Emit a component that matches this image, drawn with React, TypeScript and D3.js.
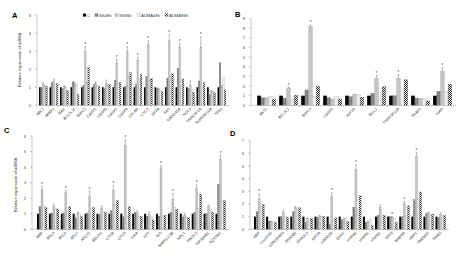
import React from "react";
import * as d3 from "d3";

const seriesNames = ["C", "SS48h", "SS96h", "ADMA48h", "ADMA96h"];

// Panel A
const aCats = ["ABL1","APAF1","BAX","BCL2L11","BIRC2","CASP1","CASP6","CASP7","CASP9","CFLAR","CYCS","DFFA","FAS","GADD45A","NOL3","TNFRSF1A","TNFRSF10A","TP53"];
const aC =      [1,1,1,1,1,1,1,1,1,1,1,1,1,1,1,1,1,1];
const aSS48 =   [1.0,1.25,0.95,1.3,1.1,1.15,0.95,1.4,1.05,1.15,1.6,0.95,1.5,2.05,0.95,1.35,0.6,2.35];
const aSS96 =   [1.15,1.35,1.05,1.1,3.0,1.2,1.2,2.3,3.0,2.5,3.35,0.9,3.6,3.2,1.1,3.2,0.75,1.0];
const aADMA48 = [1.1,1.15,1.0,1.2,1.25,1.1,1.1,1.2,1.6,1.5,1.4,0.85,1.6,1.5,0.8,1.1,0.75,1.55];
const aADMA96 = [1.05,1.2,0.8,0.6,2.1,1.05,1.15,1.25,1.8,1.7,1.5,0.75,1.75,1.45,0.7,1.25,0.7,0.85];
const aErr96 =  [0.1,0.1,0.05,0.15,0.25,0.1,0.2,0.25,0.25,0.15,0.25,0.05,0.3,0.2,0.25,0.6,0.05,0.1];
const aStars =  [4,7,8,9,10,12,13,15];

// Panel B
const bCats = ["AKT1","BCL2L1","BIRC3","CASP2","IGF1R","MCL1","TNFRSF11B","TRAF2","XIAP"];
const bC =      [1,1,1,1,1,1,1,1,1];
const bSS48 =   [0.8,0.75,1.6,0.8,0.9,1.25,1.0,0.75,1.45];
const bSS96 =   [0.75,1.8,8.2,0.6,1.1,2.8,2.8,0.65,3.55];
const bADMA48 = [0.95,0.65,0.9,0.95,1.15,1.2,1.7,0.75,1.45];
const bADMA96 = [0.6,1.05,2.0,0.65,0.85,1.95,2.65,0.45,2.2];
const bErr96 =  [0.05,0.1,0.15,0.05,0.05,0.3,0.4,0.05,0.35];
const bStars =  [1,2,5,6,8];

// Panel C
const cCats = ["ABR","ATG3","ATG5","ATG7","ATG12","BECN1","CTSB","CTSS","GAA","HTT","INS","MAP1LC3B","NPC1","PIK3C3","RPS6KB1","SQSTM1"];
const cC =      [1,1,1,1,1,1,1,1,1,1,1,1,1,1,1,1];
const cSS48 =   [1.45,1.05,1.05,0.75,1.05,0.95,1.2,0.8,1.1,0.85,0.85,1.1,0.8,1.1,1.0,2.9];
const cSS96 =   [2.55,1.45,2.35,1.0,2.1,1.35,2.5,5.4,1.1,0.95,3.95,1.95,0.9,2.65,1.45,4.5];
const cADMA48 = [1.55,1.35,1.15,1.05,1.05,1.15,1.6,0.85,0.8,0.85,0.9,1.4,0.75,1.35,1.3,1.8];
const cADMA96 = [1.4,1.3,1.45,0.8,1.4,1.1,1.85,1.45,0.85,0.6,0.9,1.3,0.75,2.25,1.1,1.85];
const cErr96 =  [0.2,0.15,0.15,0.1,0.35,0.15,0.3,0.35,0.1,0.15,0.15,0.35,0.1,0.25,0.1,0.25];
const cStars =  [0,2,4,6,7,10,11,13,15];

// Panel D
const dCats = ["NBP","C1orf159","CDK5RAP3","DNAJB9","DNAJC3","EIF2A","GADD34","ERN1","HSPA5","HSPA1","HSPB1","ATF6","MAPK8","XBP1","TMEM97","TRIB3"];
const dC =      [1,1,1,1,1,1,1,1,1,1,1,1,1,1,1,1];
const dSS48 =   [1.4,0.65,1.0,1.4,0.55,0.95,0.4,0.75,1.75,0.55,1.1,1.0,1.0,2.35,1.25,0.95];
const dSS96 =   [2.4,0.6,1.35,1.7,0.85,1.05,2.6,0.8,4.7,0.6,1.75,0.95,2.05,5.75,1.3,1.2];
const dADMA48 = [1.8,0.65,1.0,1.55,0.8,1.0,0.75,0.85,1.55,0.75,1.1,0.85,1.0,2.35,1.2,1.1];
const dADMA96 = [1.95,0.55,0.95,1.7,0.85,1.0,0.9,0.6,2.65,0.3,1.1,0.55,1.85,2.95,1.2,1.1];
const dErr96 =  [0.4,0.05,0.15,0.1,0.05,0.05,0.3,0.1,0.4,0.05,0.2,0.05,0.15,0.35,0.05,0.1];
const dStars =  [0,6,8,11,12,13];

const fills = ["#000", "url(#pSS48)", "#c4c4c4", "#ececec", "url(#pADMA96)"];
const strokes = ["none", "#666", "#888", "#999", "#555"];

type PanelProps = {
  cats: string[];
  series: number[][];
  err96: number[];
  stars: number[];
  yMax: number;
  xRange: [number, number];
  axisX: number;
  y0: number;
  yTop: number;
  letter: string;
  letterPos: [number, number];
  yLabel?: [number, number];
  pad: number;
};

function Panel(p: PanelProps) {
  const x = d3.scaleBand<string>().domain(p.cats).range(p.xRange).paddingInner(p.pad).paddingOuter(0.1);
  const sub = d3.scaleBand<number>().domain([0, 1, 2, 3, 4]).range([0, x.bandwidth()]);
  const y = d3.scaleLinear().domain([0, p.yMax]).range([p.y0, p.yTop]);
  const ticks = d3.range(0, p.yMax + 1);
  const xEnd = p.xRange[1] + 2;
  return (
    <g fontFamily="Liberation Sans, Arial, sans-serif">
      <text x={p.letterPos[0]} y={p.letterPos[1]} fontSize={7.5} fontWeight="bold">{p.letter}</text>
      {p.yLabel && (
        <text transform={`translate(${p.yLabel[0]},${p.yLabel[1]}) rotate(-90)`} textAnchor="middle" fontSize={4.2} fill="#333">
          Relative expression of mRNA
        </text>
      )}
      <line x1={p.axisX} x2={p.axisX} y1={p.yTop} y2={p.y0} stroke="#999" strokeWidth={0.5} />
      <line x1={p.axisX} x2={xEnd} y1={p.y0} y2={p.y0} stroke="#999" strokeWidth={0.5} />
      {ticks.map(t => (
        <g key={t}>
          <line x1={p.axisX - 2} x2={p.axisX} y1={y(t)} y2={y(t)} stroke="#999" strokeWidth={0.5} />
          <text x={p.axisX - 6} y={y(t) + 1.5} fontSize={4.2} textAnchor="end" fill="#444">{t}</text>
        </g>
      ))}
      {p.cats.map((c, ci) => {
        const bx = x(c)!;
        const cx = bx + x.bandwidth() / 2;
        return (
          <g key={c}>
            <line x1={cx + x.step() / 2} x2={cx + x.step() / 2} y1={p.y0} y2={p.y0 + 1.5} stroke="#999" strokeWidth={0.4} />
            {p.series.map((s, si) => {
              const v = s[ci];
              const xx = bx + sub(si)!;
              return (
                <rect key={si} x={xx} y={y(v)} width={sub.bandwidth()} height={p.y0 - y(v)}
                  fill={fills[si]} stroke={strokes[si]} strokeWidth={si === 0 ? 0 : 0.25} />
              );
            })}
            {(() => {
              const v = p.series[2][ci];
              const e = p.err96[ci];
              const xm = bx + sub(2)! + sub.bandwidth() / 2;
              return (
                <g>
                  <line x1={xm} x2={xm} y1={y(v)} y2={y(v + e)} stroke="#555" strokeWidth={0.4} />
                  <line x1={xm - 0.8} x2={xm + 0.8} y1={y(v + e)} y2={y(v + e)} stroke="#555" strokeWidth={0.4} />
                  {p.stars.includes(ci) && (
                    <text x={xm} y={y(v + e) - 0.5} fontSize={4.5} textAnchor="middle" fill="#333">*</text>
                  )}
                </g>
              );
            })()}
            <text transform={`translate(${cx + 1},${p.y0 + 4}) rotate(-45)`} textAnchor="end" fontSize={3.8} fill="#333">{c}</text>
          </g>
        );
      })}
    </g>
  );
}

function Legend() {
  const xs = [83, 95, 115, 137, 165];
  return (
    <g fontFamily="Liberation Sans, Arial, sans-serif" fontSize={4.2} fill="#333">
      {seriesNames.map((n, i) => (
        <g key={n}>
          <rect x={xs[i]} y={13.6} width={3} height={3} fill={fills[i]} stroke={strokes[i]} strokeWidth={0.25} />
          <text x={xs[i] + 4} y={16.5}>{n}</text>
        </g>
      ))}
    </g>
  );
}

export default function App() {
  return (
    <svg width={465} height={259} style={{ position: "absolute", left: 0, top: 0, background: "#fff" }}>
      <defs>
        <pattern id="pSS48" width={2} height={2} patternUnits="userSpaceOnUse">
          <rect width={2} height={2} fill="#7a7a7a" />
          <rect width={1} height={1} fill="#a8a8a8" />
        </pattern>
        <pattern id="pADMA96" width={2} height={2} patternUnits="userSpaceOnUse">
          <rect width={2} height={2} fill="#fff" />
          <rect width={1} height={1} fill="#222" />
          <rect x={1} y={1} width={1} height={1} fill="#222" />
        </pattern>
      </defs>
      <rect width={465} height={259} fill="#fff" />
      <Legend />
      <Panel cats={aCats} series={[aC, aSS48, aSS96, aADMA48, aADMA96]} err96={aErr96} stars={aStars}
        yMax={5} xRange={[38, 227]} axisX={37} y0={105.3} yTop={15} letter="A" letterPos={[12, 18]} yLabel={[21, 60]} pad={0.2} />
      <Panel cats={bCats} series={[bC, bSS48, bSS96, bADMA48, bADMA96]} err96={bErr96} stars={bStars}
        yMax={9} xRange={[255, 454]} axisX={251} y0={105.3} yTop={18.7} letter="B" letterPos={[235, 17]} pad={0.15} />
      <Panel cats={cCats} series={[cC, cSS48, cSS96, cADMA48, cADMA96]} err96={cErr96} stars={cStars}
        yMax={6} xRange={[35.8, 226.7]} axisX={32} y0={229.3} yTop={136} letter="C" letterPos={[4, 133]} yLabel={[17, 185]} pad={0.16} />
      <Panel cats={dCats} series={[dC, dSS48, dSS96, dADMA48, dADMA96]} err96={dErr96} stars={dStars}
        yMax={7} xRange={[252.8, 447]} axisX={250} y0={229.3} yTop={140.7} letter="D" letterPos={[230, 136]} pad={0.15} />
    </svg>
  );
}
